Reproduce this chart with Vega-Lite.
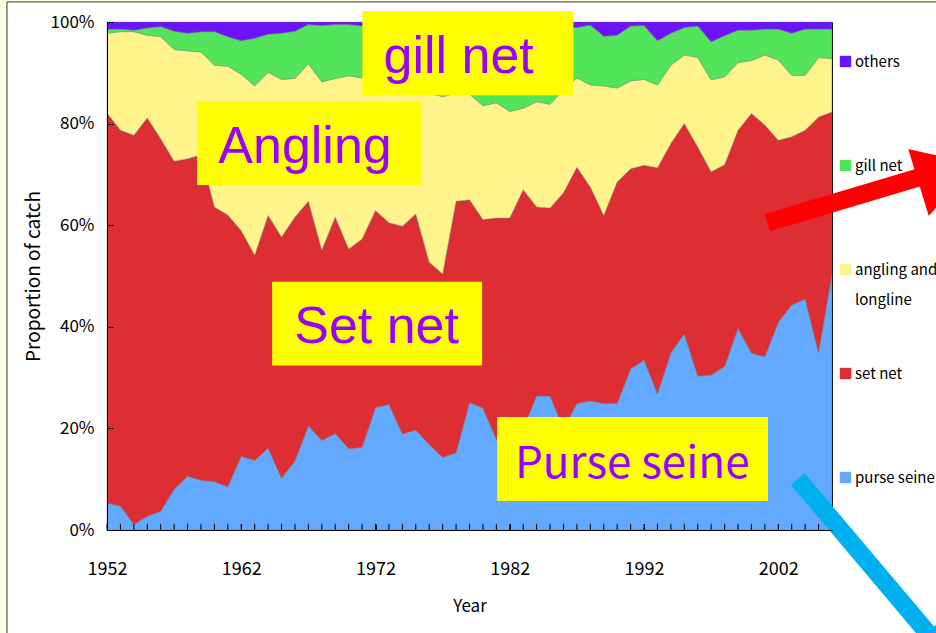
{
  "$schema": "https://vega.github.io/schema/vega-lite/v6.json",
  "width": 725,
  "height": 508,
  "autosize": {"type": "none"},
  "padding": {"left": 107, "top": 22, "right": 104, "bottom": 103},
  "background": "#FFFFFF",
  "config": {
    "view": {"stroke": "#000000", "strokeWidth": 1},
    "axis": {"grid": false, "labelOverlap": false, "domainColor": "#000000", "tickColor": "#000000", "labelColor": "#000000", "titleColor": "#000000", "labelFont": "Noto Sans CJK JP", "titleFont": "Noto Sans CJK JP", "titleFontWeight": "normal"},
    "style": {"guide-label": {"lineHeight": 30}}
  },
  "datasets": {
    "catch": [
      {"year": 1952, "purse seine": 5.3, "set net": 76.8, "angling and longline": 15.7, "gill net": 0.8, "others": 1.4},
      {"year": 1953, "purse seine": 4.7, "set net": 74.0, "angling and longline": 19.4, "gill net": 0.5, "others": 1.4},
      {"year": 1954, "purse seine": 1.1, "set net": 76.6, "angling and longline": 20.4, "gill net": 0.3, "others": 1.6},
      {"year": 1955, "purse seine": 2.7, "set net": 78.4, "angling and longline": 16.3, "gill net": 1.4, "others": 1.2},
      {"year": 1956, "purse seine": 3.7, "set net": 73.3, "angling and longline": 20.1, "gill net": 2.0, "others": 0.9},
      {"year": 1957, "purse seine": 8.0, "set net": 64.6, "angling and longline": 22.0, "gill net": 3.6, "others": 1.8},
      {"year": 1958, "purse seine": 10.6, "set net": 62.5, "angling and longline": 21.2, "gill net": 3.5, "others": 2.2},
      {"year": 1959, "purse seine": 9.8, "set net": 64.0, "angling and longline": 20.3, "gill net": 4.0, "others": 1.9},
      {"year": 1960, "purse seine": 9.5, "set net": 54.1, "angling and longline": 27.9, "gill net": 6.6, "others": 1.9},
      {"year": 1961, "purse seine": 8.5, "set net": 53.5, "angling and longline": 29.3, "gill net": 5.8, "others": 2.9},
      {"year": 1962, "purse seine": 14.5, "set net": 44.4, "angling and longline": 30.8, "gill net": 6.6, "others": 3.7},
      {"year": 1963, "purse seine": 13.7, "set net": 40.4, "angling and longline": 33.3, "gill net": 9.4, "others": 3.2},
      {"year": 1964, "purse seine": 16.1, "set net": 45.8, "angling and longline": 28.2, "gill net": 7.5, "others": 2.4},
      {"year": 1965, "purse seine": 10.2, "set net": 47.5, "angling and longline": 31.0, "gill net": 9.1, "others": 2.2},
      {"year": 1966, "purse seine": 13.6, "set net": 48.0, "angling and longline": 27.3, "gill net": 9.3, "others": 1.8},
      {"year": 1967, "purse seine": 20.5, "set net": 44.2, "angling and longline": 27.1, "gill net": 7.7, "others": 0.5},
      {"year": 1968, "purse seine": 17.6, "set net": 37.5, "angling and longline": 33.1, "gill net": 11.1, "others": 0.7},
      {"year": 1969, "purse seine": 19.0, "set net": 42.6, "angling and longline": 27.3, "gill net": 10.6, "others": 0.5},
      {"year": 1970, "purse seine": 16.0, "set net": 39.3, "angling and longline": 34.1, "gill net": 10.1, "others": 0.5},
      {"year": 1971, "purse seine": 16.3, "set net": 41.0, "angling and longline": 31.7, "gill net": 10.2, "others": 0.8},
      {"year": 1972, "purse seine": 24.1, "set net": 38.8, "angling and longline": 25.6, "gill net": 10.5, "others": 1.0},
      {"year": 1973, "purse seine": 24.7, "set net": 35.8, "angling and longline": 27.5, "gill net": 10.8, "others": 1.2},
      {"year": 1974, "purse seine": 18.9, "set net": 40.9, "angling and longline": 27.7, "gill net": 11.5, "others": 1.0},
      {"year": 1975, "purse seine": 19.7, "set net": 42.5, "angling and longline": 24.8, "gill net": 11.7, "others": 1.3},
      {"year": 1976, "purse seine": 16.8, "set net": 35.9, "angling and longline": 33.3, "gill net": 12.9, "others": 1.1},
      {"year": 1977, "purse seine": 14.3, "set net": 36.1, "angling and longline": 34.9, "gill net": 13.7, "others": 1.0},
      {"year": 1978, "purse seine": 15.2, "set net": 49.5, "angling and longline": 21.3, "gill net": 13.2, "others": 0.8},
      {"year": 1979, "purse seine": 25.1, "set net": 39.9, "angling and longline": 20.8, "gill net": 13.2, "others": 1.0},
      {"year": 1980, "purse seine": 24.0, "set net": 37.1, "angling and longline": 22.4, "gill net": 15.3, "others": 1.2},
      {"year": 1981, "purse seine": 17.8, "set net": 43.6, "angling and longline": 22.7, "gill net": 14.5, "others": 1.4},
      {"year": 1982, "purse seine": 17.0, "set net": 44.4, "angling and longline": 21.0, "gill net": 16.5, "others": 1.1},
      {"year": 1983, "purse seine": 20.0, "set net": 47.0, "angling and longline": 16.0, "gill net": 16.1, "others": 0.9},
      {"year": 1984, "purse seine": 26.4, "set net": 37.2, "angling and longline": 20.7, "gill net": 14.4, "others": 1.3},
      {"year": 1985, "purse seine": 26.4, "set net": 37.0, "angling and longline": 20.4, "gill net": 15.0, "others": 1.2},
      {"year": 1986, "purse seine": 20.0, "set net": 46.4, "angling and longline": 20.2, "gill net": 12.4, "others": 1.0},
      {"year": 1987, "purse seine": 24.9, "set net": 46.5, "angling and longline": 17.6, "gill net": 9.9, "others": 1.1},
      {"year": 1988, "purse seine": 25.4, "set net": 42.1, "angling and longline": 20.1, "gill net": 11.8, "others": 0.6},
      {"year": 1989, "purse seine": 24.9, "set net": 37.0, "angling and longline": 25.5, "gill net": 9.8, "others": 2.8},
      {"year": 1990, "purse seine": 24.9, "set net": 43.6, "angling and longline": 18.5, "gill net": 10.4, "others": 2.6},
      {"year": 1991, "purse seine": 31.7, "set net": 39.4, "angling and longline": 17.3, "gill net": 10.8, "others": 0.8},
      {"year": 1992, "purse seine": 33.4, "set net": 38.4, "angling and longline": 16.9, "gill net": 10.6, "others": 0.7},
      {"year": 1993, "purse seine": 26.8, "set net": 44.5, "angling and longline": 16.3, "gill net": 8.7, "others": 3.7},
      {"year": 1994, "purse seine": 34.9, "set net": 41.2, "angling and longline": 15.4, "gill net": 6.3, "others": 2.2},
      {"year": 1995, "purse seine": 38.6, "set net": 41.4, "angling and longline": 13.5, "gill net": 5.4, "others": 1.1},
      {"year": 1996, "purse seine": 30.3, "set net": 45.1, "angling and longline": 17.6, "gill net": 6.2, "others": 0.8},
      {"year": 1997, "purse seine": 30.5, "set net": 40.0, "angling and longline": 18.1, "gill net": 7.5, "others": 3.9},
      {"year": 1998, "purse seine": 32.2, "set net": 39.7, "angling and longline": 17.3, "gill net": 8.1, "others": 2.7},
      {"year": 1999, "purse seine": 39.7, "set net": 39.0, "angling and longline": 13.3, "gill net": 6.4, "others": 1.6},
      {"year": 2000, "purse seine": 34.8, "set net": 47.2, "angling and longline": 10.4, "gill net": 6.0, "others": 1.6},
      {"year": 2001, "purse seine": 34.1, "set net": 45.6, "angling and longline": 13.8, "gill net": 5.1, "others": 1.4},
      {"year": 2002, "purse seine": 40.9, "set net": 35.8, "angling and longline": 15.8, "gill net": 6.1, "others": 1.4},
      {"year": 2003, "purse seine": 44.3, "set net": 33.1, "angling and longline": 12.1, "gill net": 8.3, "others": 2.2},
      {"year": 2004, "purse seine": 45.5, "set net": 33.2, "angling and longline": 10.8, "gill net": 9.1, "others": 1.4},
      {"year": 2005, "purse seine": 34.9, "set net": 46.4, "angling and longline": 11.7, "gill net": 5.6, "others": 1.4},
      {"year": 2006, "purse seine": 50.4, "set net": 31.9, "angling and longline": 10.5, "gill net": 5.8, "others": 1.4}
    ],
    "boxes": [
      {"label": "gill net", "x1": 1971.02, "x2": 1986.74, "y1": 1.0217, "y2": 0.8559, "tx": 1978.19, "ty": 0.899},
      {"label": "Angling", "x1": 1958.71, "x2": 1975.45, "y1": 0.8441, "y2": 0.6789, "tx": 1966.75, "ty": 0.722},
      {"label": "Set net", "x1": 1964.30, "x2": 1979.94, "y1": 0.4889, "y2": 0.3237, "tx": 1972.08, "ty": 0.369},
      {"label": "Purse seine", "x1": 1981.06, "x2": 2001.23, "y1": 0.2224, "y2": 0.0572, "tx": 1991.12, "ty": 0.103}
    ],
    "arrows": [
      {"arrow": "red", "x1": 2001.18, "y1": 0.6049, "x2": 2012.73, "y2": 0.6961, "hx": 2014.6, "hy": 0.7017},
      {"arrow": "blue", "x1": 2003.46, "y1": 0.1001, "x2": 2015.56, "y2": -0.2789, "hx": 2014.44, "hy": -0.2493}
    ],
    "strips": [
      {"x1": 1940, "x2": 1944.55, "y1": 1.2, "y2": -0.4},
      {"x1": 1940, "x2": 2030, "y1": 1.2, "y2": 1.0395}
    ],
    "frame": [
      {"x1": 1944.55, "x2": 2030, "y1": 1.0395, "y2": -0.4}
    ]
  },
  "layer": [
    {
      "data": {"name": "catch"},
      "transform": [
        {"fold": ["purse seine", "set net", "angling and longline", "gill net", "others"], "as": ["gear", "share"]},
        {"calculate": "indexof(['purse seine','set net','angling and longline','gill net','others'], datum.gear)", "as": "ord"}
      ],
      "mark": {"type": "area", "interpolate": "linear", "stroke": "#707070", "strokeWidth": 0.4},
      "encoding": {
        "x": {
          "field": "year", "type": "quantitative", "title": "Year",
          "scale": {"domain": [1952, 2006], "nice": false, "zero": false},
          "axis": {
            "zindex": 1,
            "titleFontSize": 17, "titlePadding": 20,
            "values": [1952, 1962, 1972, 1982, 1992, 2002],
            "format": "d",
            "labelFontSize": 18, "labelPadding": 36, "labelFlush": false, "labelOverlap": false,
            "tickSize": -6
          }
        },
        "y": {
          "field": "share", "type": "quantitative", "stack": "normalize", "title": "Proportion of catch",
          "scale": {"domain": [0, 1], "nice": false},
          "axis": {
            "zindex": 1,
            "titleFontSize": 19, "titlePadding": 7,
            "values": [0, 0.2, 0.4, 0.6, 0.8, 1], "format": ".0%",
            "labelFontSize": 17, "labelPadding": 19, "labelOverlap": false, "tickSize": -6
          }
        },
        "color": {
          "field": "gear", "type": "nominal",
          "scale": {
            "domain": ["others", "gill net", "angling and longline", "set net", "purse seine"],
            "range": ["#6B14FA", "#52E45A", "#FFF38C", "#DC2E33", "#63A9FF"]
          },
          "legend": {
            "title": null, "orient": "none", "legendX": 731, "legendY": 32,
            "columns": 1, "gridAlign": "all",
            "symbolType": "square", "symbolSize": 130, "symbolStrokeWidth": 0,
            "labelFont": "Noto Sans CJK JP",
            "labelFontSize": 15, "labelColor": "#000000", "labelLimit": 300, "labelOffset": 2,
            "rowPadding": 58,
            "labelExpr": "datum.label == 'angling and longline' ? ['angling and', 'longline'] : datum.label"
          }
        },
        "order": {"field": "ord", "type": "quantitative"}
      }
    },
    {
      "data": {"name": "catch"},
      "mark": {"type": "rule", "color": "#000000", "strokeWidth": 1},
      "encoding": {
        "x": {"field": "year", "type": "quantitative"},
        "y": {"datum": 0},
        "y2": {"datum": 0.012}
      }
    },
    {
      "data": {"name": "strips"},
      "mark": {"type": "rect", "fill": "#FFFFE1", "clip": false},
      "encoding": {
        "x": {"field": "x1", "type": "quantitative"},
        "x2": {"field": "x2"},
        "y": {"field": "y1", "type": "quantitative"},
        "y2": {"field": "y2"}
      }
    },
    {
      "data": {"name": "frame"},
      "mark": {"type": "rect", "fillOpacity": 0, "stroke": "#333333", "strokeWidth": 1, "clip": false},
      "encoding": {
        "x": {"field": "x1", "type": "quantitative"},
        "x2": {"field": "x2"},
        "y": {"field": "y1", "type": "quantitative"},
        "y2": {"field": "y2"}
      }
    },
    {
      "data": {"name": "boxes"},
      "mark": {"type": "rect", "fill": "#FFFF00", "clip": false},
      "encoding": {
        "x": {"field": "x1", "type": "quantitative"},
        "x2": {"field": "x2"},
        "y": {"field": "y1", "type": "quantitative"},
        "y2": {"field": "y2"}
      }
    },
    {
      "data": {"name": "boxes"},
      "transform": [{"filter": "datum.label != 'Purse seine'"}],
      "mark": {"type": "text", "font": "Liberation Sans", "fontSize": 52, "color": "#9900FF", "align": "center", "baseline": "alphabetic", "clip": false},
      "encoding": {
        "x": {"field": "tx", "type": "quantitative"},
        "y": {"field": "ty", "type": "quantitative"},
        "text": {"field": "label"}
      }
    },
    {
      "data": {"name": "boxes"},
      "transform": [{"filter": "datum.label == 'Purse seine'"}],
      "mark": {"type": "text", "font": "Noto Sans CJK JP", "fontSize": 44, "color": "#9900FF", "align": "center", "baseline": "alphabetic", "clip": false},
      "encoding": {
        "x": {"field": "tx", "type": "quantitative"},
        "y": {"field": "ty", "type": "quantitative"},
        "text": {"field": "label"}
      }
    },
    {
      "data": {"name": "arrows"},
      "transform": [{"filter": "datum.arrow == 'red'"}],
      "mark": {"type": "rule", "strokeWidth": 18, "strokeCap": "butt", "color": "#FF0000", "clip": false},
      "encoding": {
        "x": {"field": "x1", "type": "quantitative"},
        "y": {"field": "y1", "type": "quantitative"},
        "x2": {"field": "x2"},
        "y2": {"field": "y2"}
      }
    },
    {
      "data": {"name": "arrows"},
      "transform": [{"filter": "datum.arrow == 'blue'"}],
      "mark": {"type": "rule", "strokeWidth": 18, "strokeCap": "butt", "color": "#00B0F0", "clip": false},
      "encoding": {
        "x": {"field": "x1", "type": "quantitative"},
        "y": {"field": "y1", "type": "quantitative"},
        "x2": {"field": "x2"},
        "y2": {"field": "y2"}
      }
    },
    {
      "data": {"name": "arrows"},
      "transform": [{"filter": "datum.arrow == 'red'"}],
      "mark": {"type": "point", "shape": "triangle-right", "filled": true, "size": 4900, "angle": -17, "color": "#FF0000", "strokeWidth": 0, "opacity": 1, "clip": false},
      "encoding": {
        "x": {"field": "hx", "type": "quantitative"},
        "y": {"field": "hy", "type": "quantitative"}
      }
    },
    {
      "data": {"name": "arrows"},
      "transform": [{"filter": "datum.arrow == 'blue'"}],
      "mark": {"type": "point", "shape": "triangle-right", "filled": true, "size": 4900, "angle": 50, "color": "#00B0F0", "strokeWidth": 0, "opacity": 1, "clip": false},
      "encoding": {
        "x": {"field": "hx", "type": "quantitative"},
        "y": {"field": "hy", "type": "quantitative"}
      }
    }
  ]
}
